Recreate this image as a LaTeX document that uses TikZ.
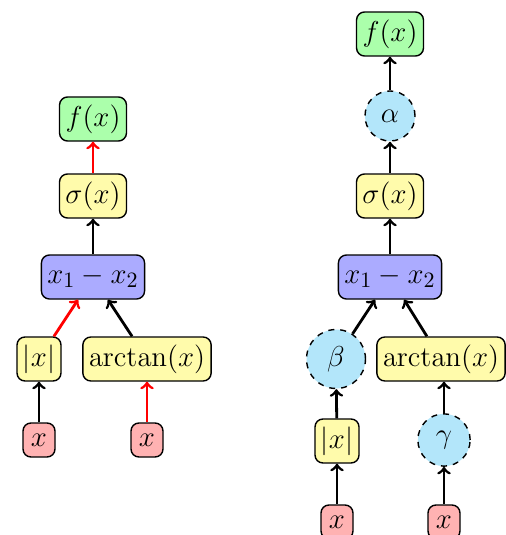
\documentclass[tikz,border=0pt]{standalone}
\usepackage{tikz}
\usetikzlibrary{shapes.geometric, arrows}

\begin{document}
\begin{tikzpicture}[
			x=0.5pt, y=-0.5pt,
			box/.style={
				rectangle,
				draw,
				rounded corners=4pt,
				line width=0.7pt,
				minimum height=22pt,
				inner xsep=3pt,
				align=center,
				font=\fontsize{15}{18}\selectfont
			},
			leaf/.style={box, fill=red!30, minimum height=17pt, minimum width=16pt, inner xsep=2pt, inner ysep=1pt},
			unary/.style={box, fill=yellow!33},
			binary/.style={box, fill=blue!33},
			output/.style={box, fill=green!33},
			weight/.style={
				circle,
				draw,
				dashed,
				line width=0.7pt,
				fill=cyan!30,
				inner sep=5pt,
				font=\fontsize{15}{18}\selectfont
			},
			arrow/.style={->, line width=1.4pt},
			grad/.style={arrow, red}
			]
			
			\useasboundingbox (0,0) rectangle (506,535);
			
			\node (fL) [output] at (93,119) {$f(x)$};
			\node (sL) [unary] at (93,196) {$\sigma(x)$};
			\node (dL) [binary] at (93,277) {$x_1 - x_2$};
			\node (aL) [unary] at (39,359) {$|x|$};
			\node (tL) [unary] at (147,359) {$\arctan(x)$};
			\node (xaL) [leaf] at (39,440) {$x$};
			\node (xtL) [leaf] at (147,440) {$x$};
			
			\draw [grad] (sL) -- (fL);
			\draw [arrow] (dL) -- (sL);
			\draw [grad] (aL) -- (dL);
			\draw [arrow] (tL) -- (dL);
			\draw [arrow] (xaL) -- (aL);
			\draw [grad] (xtL) -- (tL);
			
			\node (fR) [output] at (390,34) {$f(x)$};
			\node (alpha) [weight] at (390,116) {$\alpha$};
			\node (sR) [unary] at (390,196) {$\sigma(x)$};
			\node (dR) [binary] at (390,277) {$x_1 - x_2$};
			\node (beta) [weight] at (336,359) {$\beta$};
			\node (tR) [unary] at (441,359) {$\arctan(x)$};
			\node (aR) [unary] at (337,441) {$|x|$};
			\node (gamma) [weight] at (444,440) {$\gamma$};
			\node (xaR) [leaf] at (337,522) {$x$};
			\node (xtR) [leaf] at (444,522) {$x$};
			
			\draw [arrow] (alpha) -- (fR);
			\draw [arrow] (sR) -- (alpha);
			\draw [arrow] (dR) -- (sR);
			\draw [arrow] (beta) -- (dR);
			\draw [arrow] (tR) -- (dR);
			\draw [arrow] (aR) -- (beta);
			\draw [arrow] (gamma) -- (gamma |- tR.south);
			\draw [arrow] (xaR) -- (aR);
			\draw [arrow] (xtR) -- (gamma);
			
		\end{tikzpicture}
\end{document}
